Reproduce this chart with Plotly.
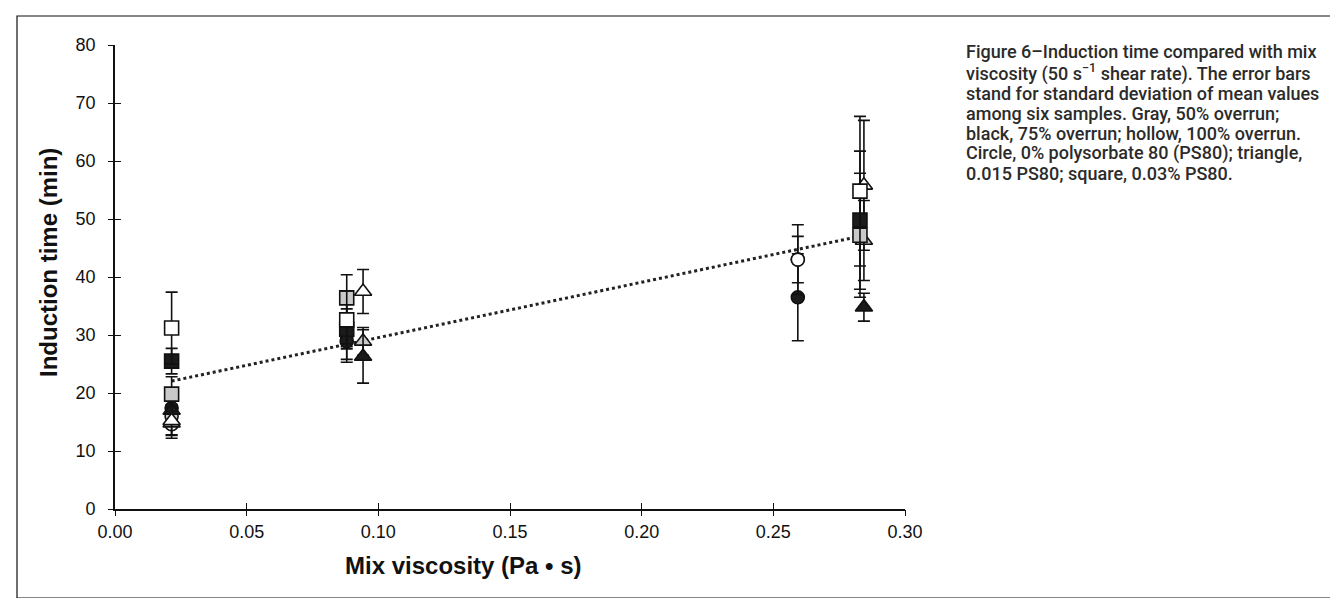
import plotly.graph_objects as go

# ---------------- data ----------------
visc_circle = [0.0215, 0.088, 0.2593]
visc_triangle = [0.0215, 0.0942, 0.2844]
visc_square = [0.0215, 0.088, 0.2829]

# circle = 0% PS80
circ_gray_y = [16.0, 30.0, 43.0]
circ_gray_err = [2.0, 2.0, 4.0]
circ_black_y = [17.4, 28.9, 36.5]
circ_black_err = [2.5, 3.6, 7.5]
circ_hollow_y = [14.6, 31.5, 43.0]
circ_hollow_err = [2.4, 3.0, 6.0]

# triangle = 0.015% PS80
tri_gray_y = [14.8, 28.9, 46.3]
tri_gray_err = [2.0, 2.4, 6.9]
tri_black_y = [17.0, 26.3, 34.8]
tri_black_err = [2.0, 4.6, 2.4]
tri_hollow_y = [15.2, 37.5, 55.8]
tri_hollow_err = [2.5, 3.8, 11.2]

# square = 0.03% PS80
sq_gray_y = [19.8, 36.4, 47.2]
sq_gray_err = [3.0, 4.0, 10.7]
sq_black_y = [25.5, 31.0, 49.8]
sq_black_err = [2.2, 5.2, 11.9]
sq_hollow_y = [31.2, 32.6, 54.8]
sq_hollow_err = [6.2, 5.0, 12.9]

# linear trend: y = intercept + slope * x
trend_intercept = 20.0
trend_slope = 95.5

x_ticks = [0.00, 0.05, 0.10, 0.15, 0.20, 0.25, 0.30]
y_ticks = [0, 10, 20, 30, 40, 50, 60, 70, 80]

x_title = "Mix viscosity (Pa • s)"
y_title = "Induction time (min)"
caption_lines = [
    "Figure 6–Induction time compared with mix",
    "viscosity (50 s<sup>−1</sup> shear rate). The error bars",
    "stand for standard deviation of mean values",
    "among six samples. Gray, 50% overrun;",
    "black, 75% overrun; hollow, 100% overrun.",
    "Circle, 0% polysorbate 80 (PS80); triangle,",
    "0.015 PS80; square, 0.03% PS80.",
]

# ---------------- styles ----------------
GRAY = "#c9c9c9"
BLACK = "#1b1b1b"
WHITE = "#ffffff"
INK = "#111111"

fig = go.Figure()

all_x = visc_circle + visc_triangle + visc_square
x_lo, x_hi = min(all_x), max(all_x)
fig.add_trace(go.Scatter(
    x=[x_lo, x_hi],
    y=[trend_intercept + trend_slope * x_lo, trend_intercept + trend_slope * x_hi],
    mode="lines",
    line=dict(color="#222222", width=3, dash="dot"),
    showlegend=False, hoverinfo="skip",
))

series = [
    (visc_circle, circ_gray_y, circ_gray_err, "circle", GRAY, 13),
    (visc_circle, circ_black_y, circ_black_err, "circle", BLACK, 13),
    (visc_circle, circ_hollow_y, circ_hollow_err, "circle", WHITE, 13),
    (visc_triangle, tri_gray_y, tri_gray_err, "triangle-up", GRAY, 15),
    (visc_triangle, tri_black_y, tri_black_err, "triangle-up", BLACK, 15),
    (visc_triangle, tri_hollow_y, tri_hollow_err, "triangle-up", WHITE, 15),
    (visc_square, sq_black_y, sq_black_err, "square", BLACK, 14),
    (visc_square, sq_gray_y, sq_gray_err, "square", GRAY, 14),
    (visc_square, sq_hollow_y, sq_hollow_err, "square", WHITE, 14),
]
for xs, ys, es, sym, fill, size in series:
    fig.add_trace(go.Scatter(
        x=xs, y=ys, mode="markers",
        marker=dict(symbol=sym, size=size, color=fill,
                    line=dict(color=INK, width=1.6)),
        error_y=dict(type="data", array=es, visible=True,
                     color=INK, thickness=1.6, width=6),
        showlegend=False,
    ))

# invisible trace creating the overlay axes (outer half of the crossing ticks)
fig.add_trace(go.Scatter(x=[0], y=[0], xaxis="x2", yaxis="y2",
                         mode="markers", marker=dict(opacity=0),
                         showlegend=False, hoverinfo="skip"))

tick_font = dict(family="Liberation Sans, Arial, sans-serif", size=18, color=INK)
title_font = dict(family="Liberation Sans, Arial, sans-serif", size=24, color=INK, weight="bold")

L, R, T, B = 107, 441, 37, 97
W, H = 1338, 598
pw, ph = W - L - R, H - T - B

def px_x(p):
    return (p - L) / pw

def px_y(p):
    return (H - B - p) / ph

annotations = [
    dict(xref="paper", yref="paper", x=px_x(455), y=px_y(557),
         xanchor="center", yanchor="middle", showarrow=False,
         text=x_title, font=title_font),
    dict(xref="paper", yref="paper", x=px_x(40), y=px_y(255),
         xanchor="center", yanchor="middle", showarrow=False, textangle=-90,
         text=y_title, font=title_font),
]
caption_y = [44, 65, 85, 105, 125, 145, 165]
for line, ly in zip(caption_lines, caption_y):
    annotations.append(dict(
        xref="paper", yref="paper",
        x=px_x(956), y=px_y(ly),
        xanchor="left", yanchor="middle", align="left", showarrow=False,
        text=line,
        font=dict(family="Roboto, Open Sans, sans-serif", size=18, color="#2b2b2b", weight=500),
    ))

fig.update_layout(
    width=W, height=H,
    margin=dict(l=L, r=R, t=T, b=B),
    paper_bgcolor="white", plot_bgcolor="white",
    xaxis=dict(range=[0, 0.30], tickvals=x_ticks, tickformat=".2f",
               showline=True, linecolor=INK, linewidth=1.6,
               ticks="inside", ticklen=6, tickwidth=1.4, tickcolor=INK,
               ticklabelstandoff=6,
               showgrid=False, zeroline=False, tickfont=tick_font),
    yaxis=dict(range=[0, 80], tickvals=y_ticks,
               showline=True, linecolor=INK, linewidth=1.6,
               ticks="inside", ticklen=6, tickwidth=1.4, tickcolor=INK,
               ticklabelstandoff=14,
               showgrid=False, zeroline=False, tickfont=tick_font),
    xaxis2=dict(range=[0, 0.30], tickvals=x_ticks, overlaying="x", side="bottom",
                ticks="outside", ticklen=6, tickwidth=1.4, tickcolor=INK,
                showticklabels=False, showgrid=False, zeroline=False, showline=False),
    yaxis2=dict(range=[0, 80], tickvals=y_ticks, overlaying="y", side="left",
                ticks="outside", ticklen=6, tickwidth=1.4, tickcolor=INK,
                showticklabels=False, showgrid=False, zeroline=False, showline=False),
    annotations=annotations,
    shapes=[dict(
        type="rect", xref="paper", yref="paper",
        x0=px_x(9), x1=px_x(1330),
        y0=px_y(590), y1=px_y(8),
        line=dict(color=INK, width=1.2), fillcolor="rgba(0,0,0,0)", layer="below",
    )],
)

fig.write_html("out.html")
